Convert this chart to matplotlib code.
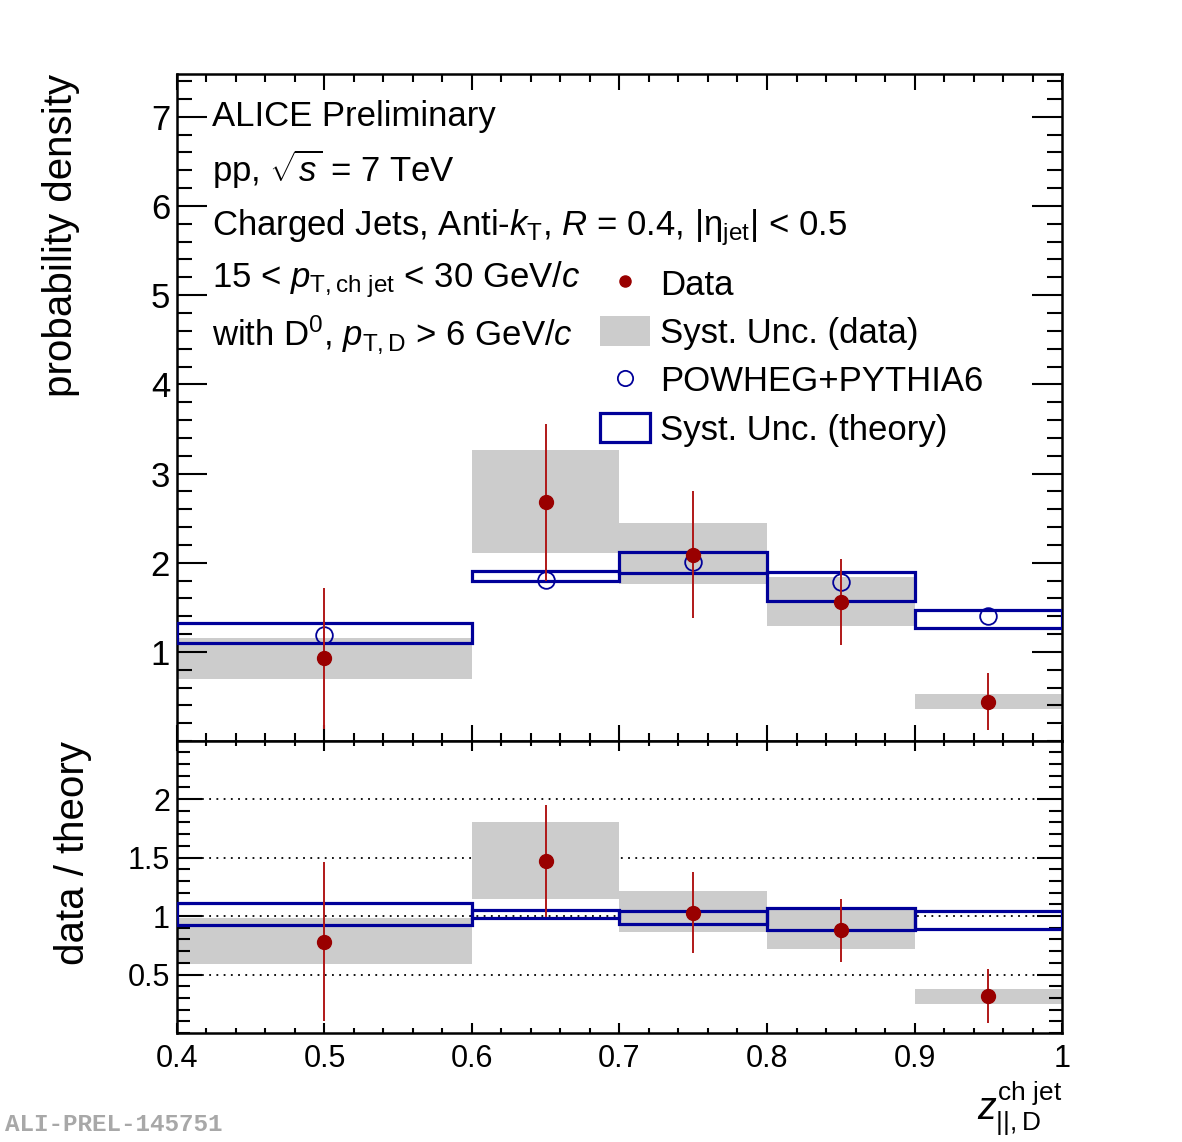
import matplotlib
matplotlib.use('Agg')
import matplotlib.pyplot as plt
from matplotlib.ticker import MultipleLocator
from matplotlib.lines import Line2D
from matplotlib.patches import Patch
import numpy as np

plt.rcParams['font.family'] = ['Liberation Sans', 'DejaVu Sans']
plt.rcParams['mathtext.fontset'] = 'custom'
plt.rcParams['mathtext.rm'] = 'Liberation Sans'
plt.rcParams['mathtext.it'] = 'Liberation Sans:italic'
plt.rcParams['mathtext.bf'] = 'Liberation Sans:bold'

# binning
bin_lo = np.array([0.4, 0.6, 0.7, 0.8, 0.9])
bin_hi = np.array([0.6, 0.7, 0.8, 0.9, 1.0])
x_pts = np.array([0.5, 0.65, 0.75, 0.85, 0.95])

# upper panel: probability density
data_val = [0.93, 2.68, 2.09, 1.56, 0.44]
data_err = [0.79, 0.88, 0.71, 0.48, 0.32]
data_sys_lo = [0.70, 2.11, 1.76, 1.29, 0.36]
data_sys_hi = [1.16, 3.26, 2.44, 1.84, 0.53]
theo_val = [1.19, 1.81, 2.01, 1.78, 1.40]
theo_sys_lo = [1.10, 1.79, 1.88, 1.57, 1.27]
theo_sys_hi = [1.32, 1.91, 2.12, 1.90, 1.47]

# lower panel: data / theory
ratio_val = [0.78, 1.47, 1.03, 0.88, 0.32]
ratio_err = [0.68, 0.48, 0.35, 0.27, 0.23]
ratio_sys_lo = [0.59, 1.15, 0.86, 0.72, 0.25]
ratio_sys_hi = [0.98, 1.80, 1.21, 1.08, 0.38]
rtheo_sys_lo = [0.92, 0.98, 0.93, 0.88, 0.89]
rtheo_sys_hi = [1.11, 1.05, 1.04, 1.07, 1.04]

x_ticks = [0.4, 0.5, 0.6, 0.7, 0.8, 0.9, 1.0]
x_ticklabels = ['0.4', '0.5', '0.6', '0.7', '0.8', '0.9', '1']
top_yticks = [1, 2, 3, 4, 5, 6, 7]
bot_yticks = [0.5, 1.0, 1.5, 2.0]
bot_yticklabels = ['0.5', '1', '1.5', '2']

c_data = '#990000'
c_err = '#b01818'
c_theo = '#000099'
c_grey = '#cccccc'

fig = plt.figure(figsize=(11.82, 11.42), dpi=100)
ax1 = fig.add_axes([0.1497, 0.3511, 0.7488, 0.5841])
ax2 = fig.add_axes([0.1497, 0.0954, 0.7488, 0.2557], sharex=ax1)

widths = bin_hi - bin_lo
centers = (bin_lo + bin_hi) / 2


def draw_panel(ax, val, err, s_lo, s_hi, t_lo, t_hi, tval=None):
    s_lo = np.array(s_lo); s_hi = np.array(s_hi)
    t_lo = np.array(t_lo); t_hi = np.array(t_hi)
    ax.bar(centers, s_hi - s_lo, bottom=s_lo, width=widths, color=c_grey,
           edgecolor='none', zorder=1)
    ax.bar(centers, t_hi - t_lo, bottom=t_lo, width=widths, fill=False,
           edgecolor=c_theo, linewidth=2.3, zorder=3)
    if tval is not None:
        ax.plot(x_pts, tval, 'o', ms=12, mfc='none', mec=c_theo, mew=1.3,
                zorder=4, clip_on=False)
    ax.errorbar(x_pts, val, yerr=err, fmt='none', ecolor=c_err, elinewidth=1.4,
                capsize=0, zorder=4)
    ax.plot(x_pts, val, 'o', ms=10, color=c_data, zorder=5)


def style_axis(ax, xmaj, xmin, ymaj, ymin, lsize):
    for sp in ax.spines.values():
        sp.set_linewidth(1.8)
    ax.tick_params(which='both', direction='in', top=True, right=True,
                   width=1.5, labelsize=lsize)
    ax.tick_params(axis='x', which='major', length=xmaj, pad=8)
    ax.tick_params(axis='x', which='minor', length=xmin)
    ax.tick_params(axis='y', which='major', length=ymaj, pad=5)
    ax.tick_params(axis='y', which='minor', length=ymin)


# upper panel
draw_panel(ax1, data_val, data_err, data_sys_lo, data_sys_hi,
           theo_sys_lo, theo_sys_hi, theo_val)
ax1.set_xlim(0.4, 1.0)
ax1.set_ylim(0, 7.48)
ax1.set_yticks(top_yticks)
ax1.yaxis.set_minor_locator(MultipleLocator(0.2))
ax1.xaxis.set_minor_locator(MultipleLocator(0.02))
style_axis(ax1, 11.5, 5.8, 21.6, 10.8, 25)
plt.setp(ax1.get_xticklabels(), visible=False)
ax1.set_ylabel('probability density', fontsize=29, loc='top')
ax1.yaxis.set_label_coords(-0.110, 1.0)

# text block
txt_kw = dict(transform=ax1.transAxes, fontsize=25, ha='left', va='baseline')
ax1.text(0.040, 0.922, 'ALICE Preliminary', **txt_kw)
ax1.text(0.040, 0.838, r'pp, $\sqrt{s}$ = 7 TeV', **txt_kw)
ax1.text(0.040, 0.7586, r'Charged Jets, Anti-$k_{\mathrm{T}}$, $R$ = 0.4, |$\mathrm{\eta}_{\mathrm{jet}}$| < 0.5', **txt_kw)
ax1.text(0.040, 0.6807, r'15 < $p_{\mathrm{T,ch\ jet}}$ < 30 GeV/$c$', **txt_kw)
ax1.text(0.040, 0.5937, r'with D$^{0}$, $p_{\mathrm{T,D}}$ > 6 GeV/$c$', **txt_kw)

# legend
handles = [
    Line2D([], [], ls='none', marker='o', ms=8, color=c_data),
    Patch(facecolor=c_grey, edgecolor='none'),
    Line2D([], [], ls='none', marker='o', ms=11, mfc='none', mec=c_theo, mew=1.3),
    Patch(facecolor='white', edgecolor=c_theo, linewidth=2.3),
]
labels = ['Data', 'Syst. Unc. (data)', 'POWHEG+PYTHIA6', 'Syst. Unc. (theory)']
ax1.legend(handles, labels, loc='upper left', bbox_to_anchor=(0.478, 0.709),
           frameon=False, fontsize=25, handlelength=1.44, handleheight=0.93,
           handletextpad=0.28, labelspacing=0.42, borderaxespad=0,
           borderpad=0)

# lower panel
for yv in bot_yticks:
    ax2.axhline(yv, xmin=0.028, xmax=0.972, color='black', ls=(0, (1, 3)),
                lw=1.3, zorder=0.5)
draw_panel(ax2, ratio_val, ratio_err, ratio_sys_lo, ratio_sys_hi,
           rtheo_sys_lo, rtheo_sys_hi)
ax2.set_xlim(0.4, 1.0)
ax2.set_ylim(0, 2.496)
ax2.set_yticks(bot_yticks)
ax2.set_yticklabels(bot_yticklabels)
ax2.set_xticks(x_ticks)
ax2.set_xticklabels(x_ticklabels)
ax2.yaxis.set_minor_locator(MultipleLocator(0.1))
ax2.xaxis.set_minor_locator(MultipleLocator(0.02))
style_axis(ax2, 7.0, 3.6, 18.0, 9.4, 22)
ax2.set_ylabel('data / theory', fontsize=29, loc='top')
ax2.yaxis.set_label_coords(-0.096, 1.0)

fig.text(0.8985, 0.004, r'$z_{||,\mathrm{D}}^{\mathrm{ch\ jet}}$', fontsize=27,
         ha='right', va='bottom')

fig.text(0.004, 0.005, 'ALI-PREL-145751', fontsize=17.5, family='Liberation Mono',
         weight='bold', color='#a8a8a8', ha='left', va='bottom')

fig.savefig('out.png', dpi=100)
